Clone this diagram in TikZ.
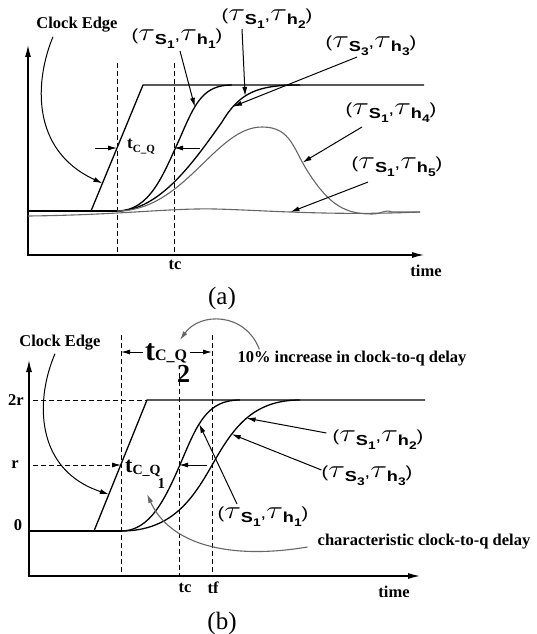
\documentclass[tikz,border=0pt]{standalone}
\usepackage{fontspec}
\setmainfont{Liberation Serif}
\setsansfont{Liberation Sans}
\usepackage{graphicx}
\usetikzlibrary{arrows.meta, calc}

\newcommand{\tauch}{{\fontsize{23}{23}\selectfont$\tau$}}
\newcommand{\tsub}[2]{\raisebox{-4pt}{\fontsize{14.5}{14}\selectfont\bfseries #1\raisebox{-4pt}{\fontsize{11}{11}\selectfont #2}}}
\newcommand{\tpair}[4]{\scalebox{1.25}[1]{\sffamily\fontsize{16}{16}\selectfont(\tauch\tsub{#1}{#2},\tauch\tsub{#3}{#4})}}

\begin{document}
\begin{tikzpicture}[x=1pt, y=-1pt,
  sig/.style={line width=1.3pt},
  gsig/.style={line width=1.1pt, black!60},
  axis/.style={line width=1.2pt, {Latex[length=12pt,width=6pt]}-{Latex[length=12pt,width=6pt]}},
  ptr/.style={line width=1pt, -{Latex[length=9pt,width=5pt]}},
  gptr/.style={line width=1.1pt, black!60, -{Latex[length=9pt,width=5pt]}},
  guide/.style={line width=0.9pt, dashed, dash pattern=on 5pt off 3pt},
  lbl/.style={font=\bfseries\fontsize{16.5}{18}\selectfont, inner sep=0pt},
  tlbl/.style={inner sep=0pt}]
\useasboundingbox (0,0) rectangle (536,634);

% (a)
\draw[axis] (28,45) -- (28,255) -- (424,255);
\draw[guide] (117,63) -- (117,255);
\draw[guide] (174,63) -- (174,255);
\coordinate (ca0) at (91,211);
\coordinate (ca1) at (143,85);
\draw[sig] (28,211) -- (117,211);
\draw[sig] (ca0) -- (ca1) -- (424,85);
\draw[sig] (117,211) .. controls (150,211) and (163,175) .. (180,138) .. controls (195,103) and (203,85) .. (232,85) coordinate[pos=0.36] (ph1a);
\draw[sig] (117,211) .. controls (160,211) and (195,160) .. (222,122) .. controls (240,92) and (258,85) .. (300,85) coordinate[pos=0.2] (ph3a) coordinate[pos=0.4] (ph2a);
\draw[gsig] (117,211) .. controls (185,211) and (215,127) .. (262,127) .. controls (292,127) and (293,150) .. (310,175) coordinate[pos=0.83] (ph4a) .. controls (330,205) and (345,214) .. (372,214) .. controls (382,214) and (385,209) .. (392,212) -- (420,212);
\draw[gsig] (28,216) .. controls (120,215) and (170,208) .. (215,209) .. controls (260,210) and (330,216) .. (420,212) coordinate[pos=0.45] (ph5a);

\node[lbl] (clka) at (77,25) {Clock Edge};
\node[tlbl] (lh1a) at (177,39) {\tpair{S}{1}{h}{1}};
\node[tlbl] (lh2a) at (267,19) {\tpair{S}{1}{h}{2}};
\node[tlbl] (lh3a) at (371,46) {\tpair{S}{3}{h}{3}};
\node[tlbl] (lh4a) at (391,113) {\tpair{S}{1}{h}{4}};
\node[tlbl] (lh5a) at (397,167) {\tpair{S}{1}{h}{5}};
\draw[ptr] ([shift={(-24,4)}]clka.south) .. controls (35,80) and (30,150) .. ($(ca0)!0.22!(ca1)$);
\draw[ptr] ([shift={(3,2)}]lh1a.south) -- (ph1a);
\draw[ptr] ([shift={(-25,0)}]lh2a.south) -- (ph2a);
\draw[ptr] ([shift={(-14,1)}]lh3a.south) -- (ph3a);
\draw[ptr] ([shift={(-29,4)}]lh4a.south) -- (ph4a);
\draw[ptr] ([shift={(-29,5)}]lh5a.south) -- (ph5a);

\node[inner sep=0pt, anchor=base west, font=\bfseries] (tcqa) at (127,148) {\fontsize{17}{17}\selectfont t\raisebox{-4pt}{\fontsize{11}{11}\selectfont C\_Q}};
\coordinate (ga1) at (117,148);
\coordinate (ga2) at (174,148);
\draw[ptr] ([shift={(-22,0)}]ga1) -- (ga1);
\draw[ptr] ([shift={(26,0)}]ga2) -- (ga2);
\node[lbl] (tca) at (175,265) {tc};
\node[lbl] (timea) at (426,271) {time};
\node[font=\fontsize{25}{25}\selectfont, inner sep=0pt] (capa) at (222,298) {(a)};

% (b)
\draw[axis] (29,360) -- (29,576) -- (420,576);
\draw[guide] (121,335) -- (121,576);
\draw[guide] (179,373) -- (179,576);
\draw[guide] (212,335) -- (212,576);
\draw[guide] (33,400) -- (147,400);
\coordinate (cb0) at (94,531);
\coordinate (cb1) at (147,400);
\draw[sig] (29,531) -- (121,531);
\draw[sig] (cb0) -- (cb1) -- (425,400);
\draw[sig] (121,531) .. controls (150,531) and (165,500) .. (182,460) .. controls (198,422) and (208,400) .. (240,400) coordinate[pos=0.38] (ph1b);
\draw[sig] (121,531) .. controls (175,531) and (195,495) .. (215,460) .. controls (235,425) and (255,400) .. (300,400) coordinate[pos=0.27] (ph3b) coordinate[pos=0.48] (ph2b);

\node[lbl] (clkb) at (60,343) {Clock Edge};
\node[lbl] (v2r) at (16,400) {2r};
\node[lbl] (vr) at (15,465) {r};
\node[lbl] (v0) at (18,525) {0};
\node[tlbl] (lh2b) at (378,440) {\tpair{S}{1}{h}{2}};
\node[tlbl] (lh3b) at (367,476) {\tpair{S}{3}{h}{3}};
\node[tlbl] (lh1b) at (263,517) {\tpair{S}{1}{h}{1}};
\draw[ptr] ([shift={(-5,3)}]clkb.south) .. controls (35,400) and (35,470) .. ($(cb0)!0.28!(cb1)$);
\draw[ptr] ([shift={(-6,-7)}]lh2b.west) -- (ph2b);
\draw[ptr] ([shift={(0,-6)}]lh3b.west) -- (ph3b);
\draw[ptr] ([shift={(-26,-3)}]lh1b.north) -- (ph1b);

\node[inner sep=0pt, anchor=base west, font=\bfseries] (tq1) at (125,472) {\fontsize{22}{22}\selectfont t\raisebox{-2pt}{\fontsize{14}{14}\selectfont C\_Q}\kern-3pt\raisebox{-16pt}{\fontsize{15}{15}\selectfont 1}};
\coordinate (gb1) at (121,465);
\coordinate (gb2) at (179,465);
\draw[guide, -{Latex[length=9pt,width=5pt]}] (33,465) -- (gb1);
\draw[ptr] ([shift={(28,0)}]gb2) -- (gb2);

\node[inner sep=0pt, anchor=base west, font=\bfseries] (tq2) at (145,360) {\fontsize{30}{30}\selectfont t{\fontsize{16}{16}\selectfont C\_Q}\kern-10pt\raisebox{-22pt}{\fontsize{26}{26}\selectfont 2}};
\coordinate (gb3) at (121,352);
\coordinate (gb4) at (212,352);
\draw[ptr] ([shift={(22,0)}]gb3) -- (gb3);
\draw[ptr] ([shift={(-22,0)}]gb4) -- (gb4);

\node[lbl] (incr) at (352,359) {10\% increase in clock-to-q delay};
\coordinate (tq2tip) at (180,340);
\draw[gptr] ([shift={(22,-2)}]incr.north west) .. controls (245,312) and (200,312) .. (tq2tip);
\node[lbl] (chr) at (424,542) {characteristic clock-to-q delay};
\coordinate (tq1tip) at (147,494);
\draw[gptr] ([shift={(-10,5)}]chr.west) .. controls (230,560) and (170,545) .. (tq1tip);

\node[lbl] (tcb) at (185,588) {tc};
\node[lbl] (tfb) at (213,588) {tf};
\node[lbl] (timeb) at (394,592) {time};
\node[font=\fontsize{25}{25}\selectfont, inner sep=0pt] (capb) at (222,623) {(b)};
\end{tikzpicture}
\end{document}
